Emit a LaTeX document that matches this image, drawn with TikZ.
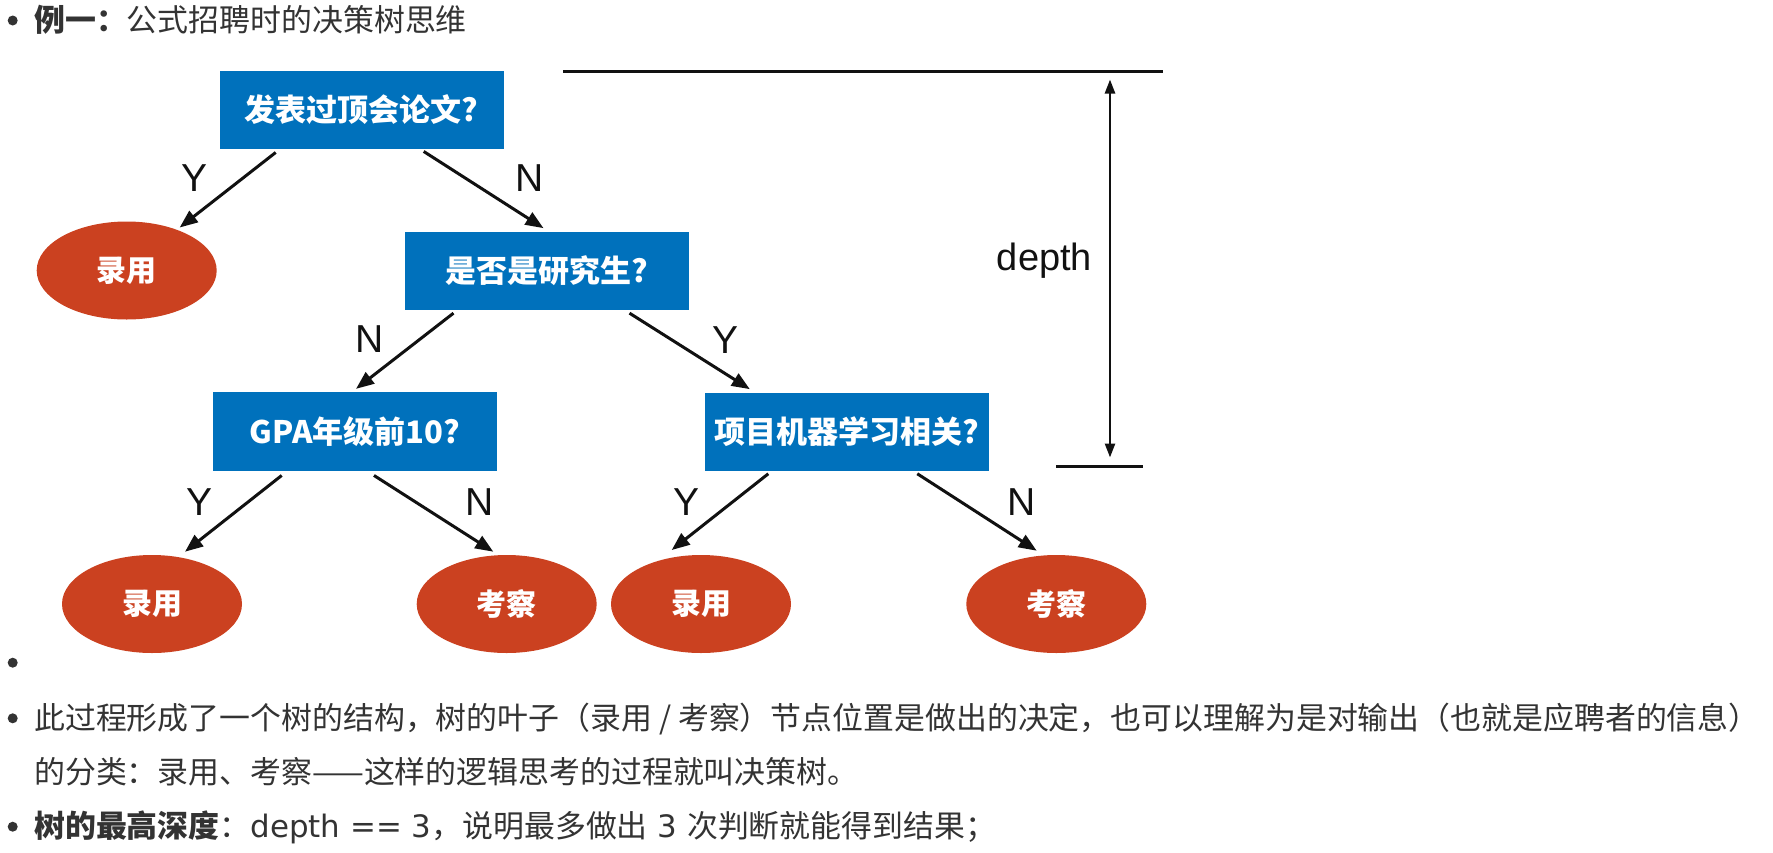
\documentclass[tikz,border=0pt]{standalone}
\usepackage{fontspec}
\usetikzlibrary{arrows.meta,shapes.geometric,calc}
\newfontfamily\cjk{Noto Sans CJK SC}
\newfontfamily\lat{DejaVu Sans}
\newfontfamily\hel{Liberation Sans}
\definecolor{boxblue}{RGB}{0,113,188}
\definecolor{leafred}{RGB}{203,65,32}
\definecolor{bodytext}{RGB}{51,51,51}
\definecolor{ink}{RGB}{17,17,17}
\tikzset{
  qbox/.style={rectangle, fill=boxblue, minimum width=284pt, minimum height=78.5pt, inner sep=0pt, text=white,
    font=\cjk\bfseries\fontsize{31pt}{36pt}\selectfont},
  leaf/.style={ellipse, fill=leafred, minimum width=180pt, minimum height=98pt, inner sep=0pt, text=white,
    font=\cjk\bfseries\fontsize{30pt}{36pt}\selectfont},
  yn/.style={inner sep=0pt, text=ink, font=\hel\fontsize{39pt}{40pt}\selectfont},
  arr/.style={draw=ink, line width=3pt, -{Triangle[length=18pt,width=14pt]}},
  dimline/.style={draw=ink, line width=3.5pt},
  dimarr/.style={draw=ink, line width=2.5pt, {Triangle[length=14pt,width=10pt]}-{Triangle[length=14pt,width=10pt]}},
  body/.style={inner sep=0pt, text=bodytext, font=\cjk\fontsize{30.9pt}{36pt}\selectfont},
  dot/.style={circle, fill=bodytext, minimum size=10pt, inner sep=0pt}
}
\begin{document}
\begin{tikzpicture}[x=1pt,y=-1pt]
\useasboundingbox (0,0) rectangle (1773,852);

% decision nodes
\node[qbox] (b1) at (361.7,110) {发表过顶会论文?};
\node[qbox] (b2) at (546.5,271) {是否是研究生?};
\node[qbox] (b3) at (355,431.7) {GPA年级前10?};
\node[qbox] (b4) at (846.8,432) {项目机器学习相关?};

% leaves
\node[leaf] (e1) at (126.7,270.5) {录用};
\node[leaf] (e2) at (152,604) {录用};
\node[leaf] (e3) at (506.7,604) {考察};
\node[leaf] (e4) at (701,604) {录用};
\node[leaf] (e5) at (1056.3,604) {考察};

% connectors
\draw[arr] ($(b1.south)+(-86,3)$) -- ($(e1.center)+(53,-43)$);
\draw[arr] ($(b1.south)+(62,2)$) -- ($(b2.north)+(-3,-3.4)$);
\draw[arr] ($(b2.south)+(-93,2.7)$) -- ($(b3.north)+(1,-3.4)$);
\draw[arr] ($(b2.south)+(83,2.7)$) -- ($(b4.north)+(-97,-3.4)$);
\draw[arr] ($(b3.south)+(-73.3,4.3)$) -- ($(e2.center)+(33,-52.3)$);
\draw[arr] ($(b3.south)+(19,4.3)$) -- ($(e3.center)+(-13.4,-52.3)$);
\draw[arr] ($(b4.south)+(-78.5,2.3)$) -- ($(e4.center)+(-29.3,-54)$);
\draw[arr] ($(b4.south)+(70.5,2.3)$) -- ($(e5.center)+(-19.6,-53.3)$);

% edge labels
\node[yn] (y1) at (195,178.3) {Y};
\node[yn] (n1) at (530,178.3) {N};
\node[yn] (n2) at (369.3,339.3) {N};
\node[yn] (y2) at (725,340) {Y};
\node[yn] (y3) at (200,501.7) {Y};
\node[yn] (n3) at (480,501.7) {N};
\node[yn] (y4) at (686.7,501.7) {Y};
\node[yn] (n4) at (1021.7,501.7) {N};

% depth dimension
\coordinate (topL) at (563,71.7);
\coordinate (topR) at (1163,71.7);
\coordinate (botL) at (1056,466.7);
\coordinate (botR) at (1142.7,466.7);
\coordinate (dtop) at (1110,79.5);
\coordinate (dbot) at (1110,457.5);
\draw[dimline] (topL) -- (topR);
\draw[dimline] (botL) -- (botR);
\draw[dimarr] (dtop) -- (dbot);
\node[inner sep=0pt, text=ink, font=\hel\fontsize{38pt}{40pt}\selectfont, anchor=base] (dep) at (1044.5,270) {depth};

% text lines
\node[dot] (u0) at (12.7,20.5) {};
\node[body, anchor=base west] (t0) at (34,31.5) {{\bfseries 例一：}公式招聘时的决策树思维};
\node[dot] (u1) at (12.7,662.7) {};
\node[dot] (u2) at (12.7,718.3) {};
\node[body, anchor=base west] (t1) at (34,729) {此过程形成了一个树的结构，树的叶子（录用 / 考察）节点位置是做出的决定，也可以理解为是对输出（也就是应聘者的信息）};
\node[body, anchor=base west] (t2) at (34,783.5) {的分类：录用、考察——这样的逻辑思考的过程就叫决策树。};
\node[dot] (u3) at (12.7,826.7) {};
\node[body, anchor=base west] (t3) at (34,837.5) {{\bfseries 树的最高深度}：{\lat depth == 3}，说明最多做出{\lat\ 3 }次判断就能得到结果；};
\end{tikzpicture}
\end{document}
